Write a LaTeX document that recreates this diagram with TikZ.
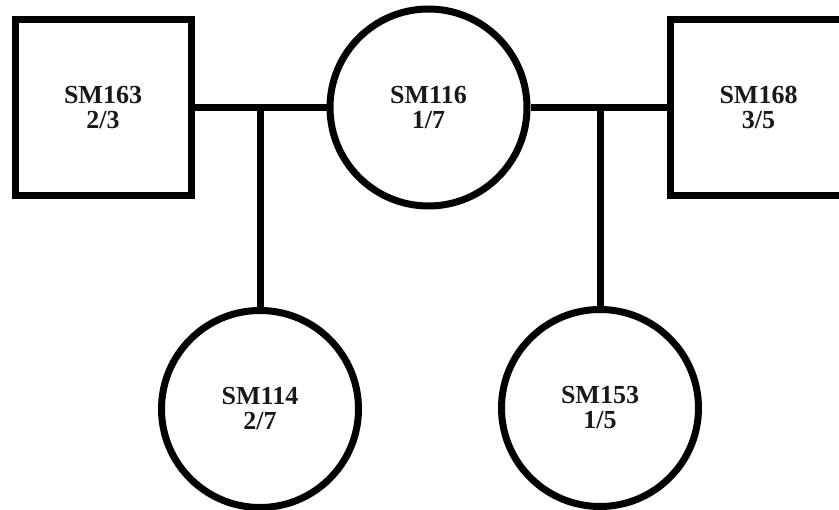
\documentclass[tikz,border=0pt]{standalone}
\usepackage{fontspec}
\setmainfont{Liberation Serif}
\begin{document}
\begin{tikzpicture}[x=1pt,y=-1pt,
  person/.style={draw=black,line width=7pt,fill=white,inner sep=0pt,align=center,
    font=\fontsize{26}{25}\selectfont\bfseries,text=black!90},
  male/.style={person,rectangle,minimum size=176pt},
  female/.style={person,circle,minimum size=197pt},
  link/.style={line width=7pt,draw=black}]
\useasboundingbox (0,0) rectangle (839,510);
\fill[white] (0,0) rectangle (839,510);
\node[male] (s163) at (103,107.5) {SM163\\2/3};
\node[female] (c116) at (428.5,107.5) {SM116\\1/7};
\node[male] (s168) at (758.5,107.5) {SM168\\3/5};
\node[female] (c114) at (260,409) {SM114\\2/7};
\node[female] (c153) at (600,408) {SM153\\1/5};
\coordinate (j1) at (260,107.5);
\coordinate (j2) at (600,107.5);
\draw[link] (s163.east) -- (c116.west);
\draw[link] (c116.east) -- (s168.west);
\draw[link] (j1) -- (c114.north);
\draw[link] (j2) -- (c153.north);
\end{tikzpicture}
\end{document}
